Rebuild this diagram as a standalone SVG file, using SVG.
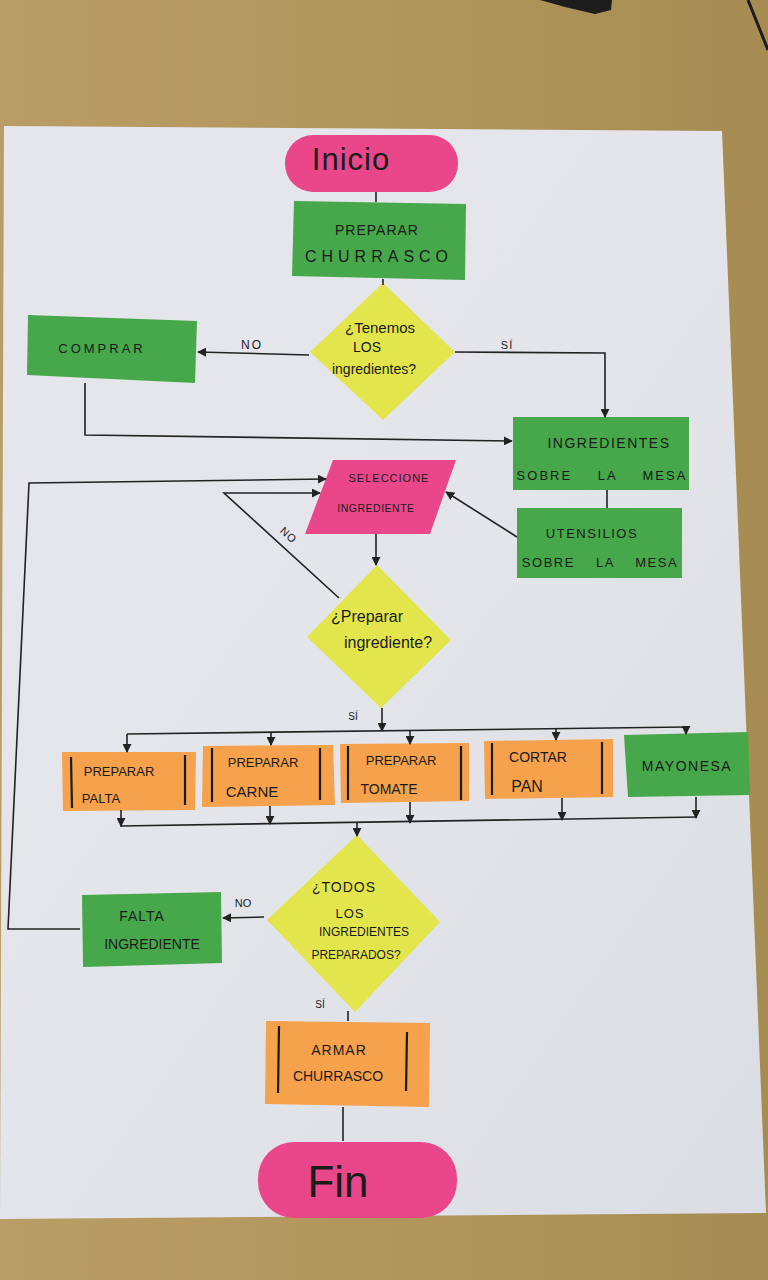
<svg xmlns="http://www.w3.org/2000/svg" width="768" height="1280" viewBox="0 0 768 1280">
<style>
.t{font-family:"Liberation Sans","DejaVu Sans",sans-serif;fill:#1b1b1b;text-anchor:middle}
.ln{fill:none;stroke:#222;stroke-width:1.6}
.green{fill:#46a84a}
.pink{fill:#e9478a}
.yellow{fill:#e3e54c}
.orange{fill:#f6a14b}
.bar{stroke:#1b1b1b;stroke-width:2.2}
</style>
<defs>
<marker id="ah" viewBox="0 0 10 10" refX="9" refY="5" markerWidth="9" markerHeight="9" markerUnits="userSpaceOnUse" orient="auto">
<path d="M0,0 L10,5 L0,10 z" fill="#222"/>
</marker>
<linearGradient id="wood" x1="0" y1="0" x2="1" y2="0">
<stop offset="0" stop-color="#b99d66"/>
<stop offset="0.6" stop-color="#b0955a"/>
<stop offset="1" stop-color="#a68b52"/>
</linearGradient>
<linearGradient id="paper" x1="0" y1="0" x2="1" y2="1">
<stop offset="0" stop-color="#e6e7ec"/>
<stop offset="0.5" stop-color="#e3e5ea"/>
<stop offset="1" stop-color="#dadde3"/>
</linearGradient>
</defs>

<g id="background">
<rect x="0" y="0" width="768" height="1280" fill="url(#wood)"/>
<path d="M540,0 L612,0 L611,10 L595,14 L565,7 Z" fill="#1d1d1d"/>
<path d="M748,0 L768,50" stroke="#1d1d1d" stroke-width="3"/>
<polygon points="4,126 722,131 766,1213 0,1219" fill="url(#paper)"/>
</g>

<g id="inicio">
<rect class="pink" x="285" y="135" width="173" height="57" rx="28" fill="#ec4f8f"/>
<text class="t" x="351" y="170" font-size="31" letter-spacing="1">Inicio</text>
</g>

<g id="preparar-churrasco">
<polygon class="green" points="294,201 466,204 465,280 292,276"/>
<text class="t" x="377" y="235" font-size="14" letter-spacing="1">PREPARAR</text>
<text class="t" x="379" y="262" font-size="16" letter-spacing="5">CHURRASCO</text>
</g>

<g id="tenemos">
<polygon class="yellow" points="383,283 455,352 383,420 310,352"/>
<text class="t" x="380" y="333" font-size="15">¿Tenemos</text>
<text class="t" x="367" y="352" font-size="14">LOS</text>
<text class="t" x="374" y="374" font-size="14">ingredientes?</text>
</g>

<g id="comprar">
<polygon class="green" points="28,315 197,321 195,383 27,375"/>
<text class="t" x="102" y="353" font-size="13" letter-spacing="3">COMPRAR</text>
</g>

<g id="ingredientes-mesa">
<rect class="green" x="513" y="417" width="176" height="73"/>
<text class="t" x="609" y="448" font-size="14" letter-spacing="1.5">INGREDIENTES</text>
<text class="t" x="602" y="480" font-size="13" letter-spacing="2" word-spacing="20">SOBRE LA MESA</text>
</g>

<g id="utensilios-mesa">
<rect class="green" x="517" y="508" width="165" height="70"/>
<text class="t" x="592" y="538" font-size="13" letter-spacing="1.5">UTENSILIOS</text>
<text class="t" x="600" y="567" font-size="13" letter-spacing="1.5" word-spacing="16">SOBRE LA MESA</text>
</g>

<g id="seleccione">
<polygon class="pink" points="333,460 456,460 430,534 305,534"/>
<text class="t" x="389" y="482" font-size="11" letter-spacing="1">SELECCIONE</text>
<text class="t" x="376" y="512" font-size="10.5" letter-spacing="0.5">INGREDIENTE</text>
</g>

<g id="preparar-ingrediente">
<polygon class="yellow" points="377,565 451,640 381,708 307,637"/>
<text class="t" x="367" y="622" font-size="16">¿Preparar</text>
<text class="t" x="388" y="648" font-size="16">ingrediente?</text>
</g>

<g id="preparar-palta">
<polygon class="orange" points="62,752 196,752 195,810 63,811"/>
<line class="bar" x1="71" y1="757" x2="72" y2="808"/>
<line class="bar" x1="185" y1="755" x2="185" y2="805"/>
<text class="t" x="119" y="776" font-size="13">PREPARAR</text>
<text class="t" x="101" y="803" font-size="13">PALTA</text>
</g>

<g id="preparar-carne">
<polygon class="orange" points="203,746 333,745 335,805 202,807"/>
<line class="bar" x1="212" y1="748" x2="212" y2="802"/>
<line class="bar" x1="320" y1="748" x2="320" y2="800"/>
<text class="t" x="263" y="767" font-size="13">PREPARAR</text>
<text class="t" x="252" y="797" font-size="15">CARNE</text>
</g>

<g id="preparar-tomate">
<polygon class="orange" points="340,744 469,743 469,801 341,803"/>
<line class="bar" x1="348" y1="746" x2="348" y2="800"/>
<line class="bar" x1="461" y1="746" x2="461" y2="800"/>
<text class="t" x="401" y="765" font-size="13">PREPARAR</text>
<text class="t" x="389" y="794" font-size="14">TOMATE</text>
</g>

<g id="cortar-pan">
<polygon class="orange" points="484,741 613,739 613,797 485,799"/>
<line class="bar" x1="492" y1="743" x2="492" y2="795"/>
<line class="bar" x1="602" y1="742" x2="602" y2="794"/>
<text class="t" x="538" y="762" font-size="14">CORTAR</text>
<text class="t" x="527" y="792" font-size="16">PAN</text>
</g>

<g id="mayonesa">
<polygon class="green" points="624,735 748,732 750,795 628,797"/>
<text class="t" x="687" y="771" font-size="14" letter-spacing="1.5">MAYONESA</text>
</g>

<g id="todos-preparados">
<polygon class="yellow" points="357,835 440,922 355,1012 267,920"/>
<text class="t" x="344" y="892" font-size="14" letter-spacing="1">¿TODOS</text>
<text class="t" x="350" y="918" font-size="13" letter-spacing="1">LOS</text>
<text class="t" x="364" y="936" font-size="12">INGREDIENTES</text>
<text class="t" x="356" y="959" font-size="12">PREPARADOS?</text>
</g>

<g id="falta-ingrediente">
<polygon class="green" points="82,895 221,892 222,963 83,967"/>
<text class="t" x="142" y="921" font-size="14" letter-spacing="1">FALTA</text>
<text class="t" x="152" y="949" font-size="14">INGREDIENTE</text>
</g>

<g id="armar-churrasco">
<polygon class="orange" points="266,1021 430,1023 429,1107 265,1104"/>
<line class="bar" x1="279" y1="1026" x2="278" y2="1093"/>
<line class="bar" x1="407" y1="1032" x2="406" y2="1091"/>
<text class="t" x="339" y="1055" font-size="14" letter-spacing="1">ARMAR</text>
<text class="t" x="338" y="1081" font-size="14">CHURRASCO</text>
</g>

<g id="fin">
<rect class="pink" x="258" y="1142" width="199" height="76" rx="36" fill="#e6448a"/>
<text class="t" x="338" y="1197" font-size="44">Fin</text>
</g>

<g id="connectors">
<path class="ln" d="M376,192 L376,202"/>
<path class="ln" d="M383,279 L383,285"/>
<path class="ln" d="M309,355 L198,352" marker-end="url(#ah)"/>
<path class="ln" d="M455,352 L605,353 L605,417" marker-end="url(#ah)"/>
<path class="ln" d="M85,383 L85,435 L512,441" marker-end="url(#ah)"/>
<path class="ln" d="M607,490 L607,508"/>
<path class="ln" d="M517,537 L446,492" marker-end="url(#ah)"/>
<path class="ln" d="M376,534 L376,565" marker-end="url(#ah)"/>
<path class="ln" d="M339,598 L224,493 L320,493" marker-end="url(#ah)"/>
<path class="ln" d="M80,929 L8,929 L29,483 L326,479" marker-end="url(#ah)"/>
<path class="ln" d="M382,708 L382,731" marker-end="url(#ah)"/>
<path class="ln" d="M127,734 L686,727"/>
<path class="ln" d="M127,734 L127,752" marker-end="url(#ah)"/>
<path class="ln" d="M271,732 L271,745" marker-end="url(#ah)"/>
<path class="ln" d="M410,731 L410,744" marker-end="url(#ah)"/>
<path class="ln" d="M556,729 L556,740" marker-end="url(#ah)"/>
<path class="ln" d="M686,727 L686,734" marker-end="url(#ah)"/>
<path class="ln" d="M121,810 L121,826" marker-end="url(#ah)"/>
<path class="ln" d="M270,806 L270,824" marker-end="url(#ah)"/>
<path class="ln" d="M410,802 L410,823" marker-end="url(#ah)"/>
<path class="ln" d="M562,798 L562,820" marker-end="url(#ah)"/>
<path class="ln" d="M696,797 L696,818" marker-end="url(#ah)"/>
<path class="ln" d="M120,826 L697,817"/>
<path class="ln" d="M357,822 L357,836" marker-end="url(#ah)"/>
<path class="ln" d="M264,917 L223,918" marker-end="url(#ah)"/>
<path class="ln" d="M348,1011 L348,1021"/>
<path class="ln" d="M343,1107 L343,1141"/>
<text class="t" x="252" y="349" font-size="12" letter-spacing="2">NO</text>
<text class="t" x="507" y="349" font-size="11" letter-spacing="1">SÍ</text>
<text class="t" x="286" y="538" font-size="11" letter-spacing="1" transform="rotate(42 286 538)">NO</text>
<text class="t" x="353" y="720" font-size="10">SÍ</text>
<text class="t" x="243" y="907" font-size="11">NO</text>
<text class="t" x="320" y="1008" font-size="10">SÍ</text>
</g>
</svg>
